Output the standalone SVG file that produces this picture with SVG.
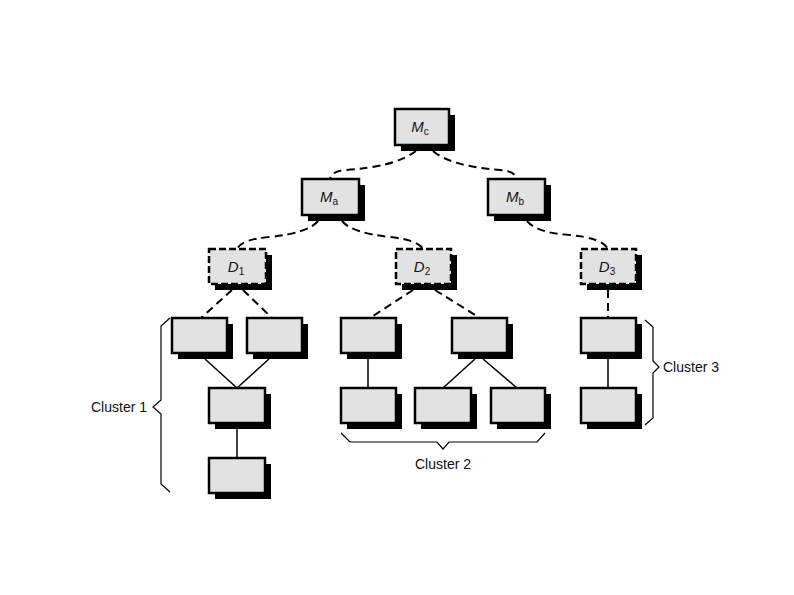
<svg xmlns="http://www.w3.org/2000/svg" width="794" height="595" viewBox="0 0 794 595">
<defs>
<style>
.box{fill:#e2e2e2;stroke:#000;stroke-width:2.5}
.dbox{fill:#e2e2e2;stroke:#000;stroke-width:2.5;stroke-dasharray:7 3}
.sh{fill:#000}
.dash{fill:none;stroke:#000;stroke-width:2;stroke-dasharray:8 5}
.ln{fill:none;stroke:#000;stroke-width:1.5}
.br{fill:none;stroke:#000;stroke-width:1.2}
.lbl{font-family:"Liberation Sans",Arial,sans-serif;font-size:15px;font-style:italic;text-anchor:middle;fill:#111}
.sub{font-size:10px;font-style:normal}
.cl{font-family:"Liberation Sans",Arial,sans-serif;font-size:14px;fill:#111}
</style>
</defs>
<rect width="794" height="595" fill="#fff"/>
<g id="connectors">
<path class="dash" d="M416,151 Q395,167 345,170 Q332,171 330,179"/>
<path class="dash" d="M433,151 Q450,166 500,170 Q515,171 517,179"/>
<path class="dash" d="M318,221 Q308,233 270,237 Q242,239 237,249"/>
<path class="dash" d="M342,221 Q352,233 390,237 Q418,240 423,249"/>
<path class="dash" d="M527,221 Q537,233 570,235 Q602,238 608,249"/>
<path class="dash" d="M232,290 L201,318"/>
<path class="dash" d="M243,290 L272,318"/>
<path class="dash" d="M413,290 L370,318"/>
<path class="dash" d="M435,290 L480,318"/>
<path class="dash" d="M608,290 L608,318"/>
<path class="ln" d="M205,359 L237,388 L269,359"/>
<path class="ln" d="M237,429 L237,458"/>
<path class="ln" d="M368,359 L368,388"/>
<path class="ln" d="M475,359 L443,388"/>
<path class="ln" d="M483,359 L517,388"/>
<path class="ln" d="M608,359 L608,388"/>
</g>
<g id="Mc"><rect class="sh" x="401" y="115" width="54" height="36"/><rect class="box" x="395" y="109" width="54" height="36"/><text class="lbl" x="420" y="132">M<tspan class="sub" dy="3">c</tspan></text></g>
<g id="Ma"><rect class="sh" x="308" y="185" width="57" height="36"/><rect class="box" x="302" y="179" width="57" height="36"/><text class="lbl" x="329" y="202">M<tspan class="sub" dy="3">a</tspan></text></g>
<g id="Mb"><rect class="sh" x="494" y="185" width="57" height="36"/><rect class="box" x="488" y="179" width="57" height="36"/><text class="lbl" x="515" y="202">M<tspan class="sub" dy="3">b</tspan></text></g>
<g id="D1"><rect class="sh" x="215" y="255" width="57" height="35"/><rect class="dbox" x="209" y="249" width="57" height="35"/><text class="lbl" x="236" y="272">D<tspan class="sub" dy="3">1</tspan></text></g>
<g id="D2"><rect class="sh" x="402" y="255" width="55" height="35"/><rect class="dbox" x="396" y="249" width="55" height="35"/><text class="lbl" x="422" y="272">D<tspan class="sub" dy="3">2</tspan></text></g>
<g id="D3"><rect class="sh" x="587" y="255" width="55" height="35"/><rect class="dbox" x="581" y="249" width="55" height="35"/><text class="lbl" x="607" y="272">D<tspan class="sub" dy="3">3</tspan></text></g>
<g id="c1a"><rect class="sh" x="178" y="324" width="55" height="35"/><rect class="box" x="172" y="318" width="55" height="35"/></g>
<g id="c1b"><rect class="sh" x="253" y="324" width="55" height="35"/><rect class="box" x="247" y="318" width="55" height="35"/></g>
<g id="c1c"><rect class="sh" x="215" y="394" width="56" height="35"/><rect class="box" x="209" y="388" width="56" height="35"/></g>
<g id="c1d"><rect class="sh" x="215" y="464" width="56" height="35"/><rect class="box" x="209" y="458" width="56" height="35"/></g>
<g id="c2a"><rect class="sh" x="347" y="324" width="55" height="35"/><rect class="box" x="341" y="318" width="55" height="35"/></g>
<g id="c2b"><rect class="sh" x="458" y="324" width="55" height="35"/><rect class="box" x="452" y="318" width="55" height="35"/></g>
<g id="c2c"><rect class="sh" x="347" y="394" width="55" height="35"/><rect class="box" x="341" y="388" width="55" height="35"/></g>
<g id="c2d"><rect class="sh" x="421" y="394" width="56" height="35"/><rect class="box" x="415" y="388" width="56" height="35"/></g>
<g id="c2e"><rect class="sh" x="497" y="394" width="54" height="35"/><rect class="box" x="491" y="388" width="54" height="35"/></g>
<g id="c3a"><rect class="sh" x="587" y="324" width="55" height="35"/><rect class="box" x="581" y="318" width="55" height="35"/></g>
<g id="c3b"><rect class="sh" x="587" y="394" width="55" height="35"/><rect class="box" x="581" y="388" width="55" height="35"/></g>
<g id="cluster1"><path class="br" d="M170,318 L161,326 L161,400 L153,407 L161,414 L161,484 L170,492"/><text class="cl" x="91" y="412">Cluster 1</text></g>
<g id="cluster2"><path class="br" d="M341,433 L350,442 L437,442 L443,449 L449,442 L537,442 L545,433"/><text class="cl" x="443" y="469" text-anchor="middle">Cluster 2</text></g>
<g id="cluster3"><path class="br" d="M645,320 L653,327 L653,361 L659,367 L653,373 L653,418 L645,425"/><text class="cl" x="663" y="372">Cluster 3</text></g>
</svg>
